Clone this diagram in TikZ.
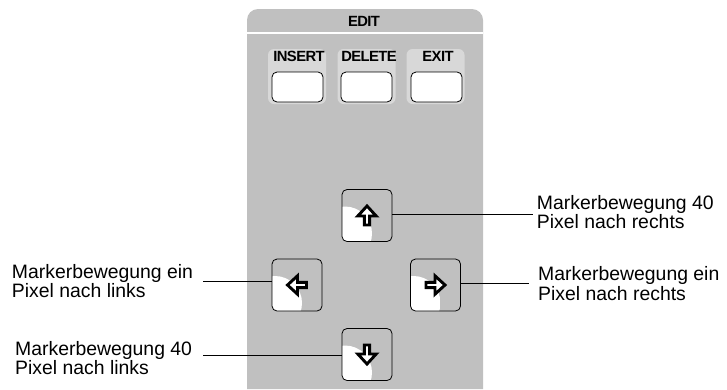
\documentclass[tikz,border=0pt]{standalone}
\usepackage{fontspec}
\setmainfont{Liberation Sans}
\usetikzlibrary{calc}
\definecolor{panelgray}{RGB}{192,192,192}
\definecolor{padgray}{RGB}{216,216,216}
\pgfdeclareradialshading{keyblob}{\pgfpoint{0bp}{0bp}}{color(0bp)=(white); color(38bp)=(white); color(47bp)=(panelgray); color(50bp)=(panelgray)}
\newcommand\keyarrow[2]{\draw[arrowglyph, shift={(#1.center)}, rotate=#2] (0,-9.5) -- (9.2,0.5) -- (2.6,0.5) -- (2.6,9.5) -- (-2.6,9.5) -- (-2.6,0.5) -- (-9.2,0.5) -- cycle;}
\begin{document}
\begin{tikzpicture}[x=1pt,y=-1pt,
  labeltext/.style={anchor=base west, inner sep=0pt, font=\fontsize{19.4}{19.5}\selectfont},
  keylabel/.style={anchor=base, inner sep=0pt, font=\fontsize{14.8}{14.8}\selectfont\bfseries\addfontfeature{LetterSpace=-4}},
  keypad/.style={fill=padgray, rounded corners=6pt, minimum width=58pt, minimum height=55pt, inner sep=0pt},
  softkey/.style={draw=black, line width=0.8pt, fill=white, rounded corners=5pt, minimum width=51pt, minimum height=30pt, inner sep=0pt},
  cursorkey/.style={draw=black, line width=0.8pt, fill=panelgray, rounded corners=5pt, minimum width=50pt, minimum height=52pt, inner sep=0pt,
    path picture={\shade[shading=keyblob] ($(path picture bounding box.south west)+(3pt,8pt)$) circle (27pt);}},
  arrowglyph/.style={draw=black, line width=2.9pt, fill=white, line join=miter},
  leader/.style={draw=black, line width=0.8pt}]
\useasboundingbox (0,0) rectangle (727,389);
% panel
\fill[panelgray, rounded corners=11pt] (247,389) -- (247,9) -- (483,9) -- (483,389);
\fill[white] (247,32) rectangle (483,34.3);
\node[keylabel] (editTitle) at (364,26.7) {EDIT};
% soft keys
\node[keypad] (padIns) at (297,76.5) {};
\node[keypad] (padDel) at (366.5,76.5) {};
\node[keypad] (padExit) at (435.5,76.5) {};
\node[softkey] (keyIns) at (297.5,87) {};
\node[softkey] (keyDel) at (366.5,87) {};
\node[softkey] (keyExit) at (436.5,87) {};
\node[keylabel] (lblIns) at (299,61.5) {INSERT};
\node[keylabel] (lblDel) at (369,61.5) {DELETE};
\node[keylabel] (lblExit) at (438,61.5) {EXIT};
% cursor keys
\node[cursorkey] (btnUp) at (367,215.5) {};
\node[cursorkey] (btnL) at (297,285) {};
\node[cursorkey] (btnR) at (435.5,285) {};
\node[cursorkey] (btnD) at (367,354.5) {};
\keyarrow{btnUp}{0}
\keyarrow{btnL}{90}
\keyarrow{btnR}{-90}
\keyarrow{btnD}{180}
% labels
\node[labeltext] (lblUp) at (536.7,209.3) {\vtop{\hbox{Markerbewegung 40}\hbox{Pixel nach rechts}}};
\node[labeltext] (lblR) at (538,280.7) {\vtop{\hbox{Markerbewegung ein}\hbox{Pixel nach rechts}}};
\node[labeltext] (lblL) at (11.7,278.3) {\vtop{\hbox{Markerbewegung ein}\hbox{Pixel nach links}}};
\node[labeltext] (lblD) at (15,355) {\vtop{\hbox{Markerbewegung 40}\hbox{Pixel nach links}}};
% leaders
\coordinate (cUp) at (533,214);
\coordinate (cR) at (529,283.3);
\coordinate (cL) at (203,281.7);
\coordinate (cD) at (203,355.7);
\draw[leader] (cUp -| btnUp.east) -- (cUp);
\draw[leader] (cR -| btnR.east) -- (cR);
\draw[leader] (cL) -- (cL -| btnL.west);
\draw[leader] (cD) -- (cD -| btnD.west);
\end{tikzpicture}
\end{document}
